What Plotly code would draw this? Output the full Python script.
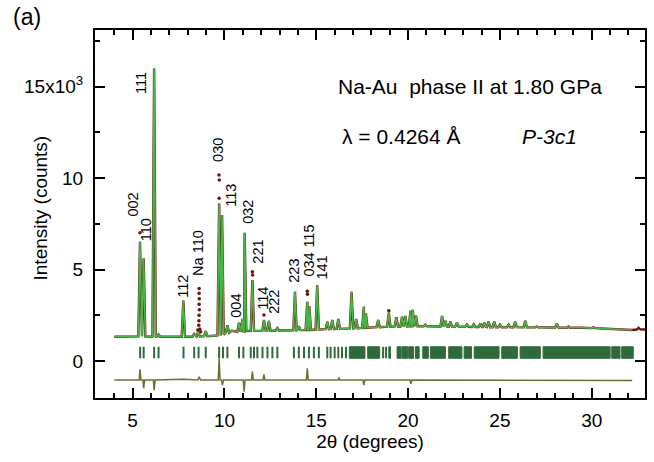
import plotly.graph_objects as go

# ---------------- data ----------------
# background / foot level of the pattern
bg_2theta = [4.0, 6.0, 8.0, 9.3, 10.4, 13.0, 16.0, 18.5, 21.0, 25.0, 29.0, 31.0, 32.2]
bg_counts = [1330, 1330, 1330, 1380, 1650, 1680, 1780, 1900, 1900, 1850, 1820, 1740, 1700]

# Bragg peaks of the calculated profile: position, calculated top, foot level
peak_2theta = [5.40, 5.60, 6.17, 6.41, 7.76, 8.35, 8.57, 8.98, 9.71, 9.87, 10.16, 10.79, 10.98,
               11.10, 11.52, 12.15, 12.42, 12.88, 13.84, 14.05, 14.51, 14.62, 15.05, 15.60,
               15.87, 16.20, 16.92, 17.17, 17.59, 17.70, 18.37, 18.95, 19.36, 19.67, 19.85,
               20.13, 20.25, 20.43, 20.94, 21.85, 22.03, 22.30, 22.66, 23.20, 23.57, 23.93,
               24.15, 24.38, 24.69, 25.00, 25.47, 25.83, 26.38, 27.00, 28.10, 28.73, 29.37,
               30.09, 31.00]
peak_calc = [6520, 5610, 15990, 1450, 3300, 1480, 1600, 1640, 8620, 7980, 1950, 2090, 2300,
             7010, 4430, 2240, 2190, 1800, 3790, 1900, 3240, 3000, 4150, 2150,
             2240, 2300, 3790, 2300, 2970, 2600, 2240, 2650, 2390, 2420, 2470,
             2750, 2800, 2480, 1990, 2470, 2200, 2150, 2100, 1990, 2010, 2050,
             2100, 2150, 2150, 1990, 1990, 2150, 2200, 1880, 2040, 1890, 1860,
             1840, 1760]
peak_base = [1350, 1350, 1340, 1330, 1330, 1330, 1340, 1360, 1400, 1450, 1550, 1600, 1620,
             1640, 1650, 1660, 1660, 1670, 1680, 1690, 1700, 1700, 1720, 1740,
             1750, 1760, 1780, 1790, 1810, 1820, 1850, 1880, 1890, 1890, 1890,
             1900, 1900, 1900, 1900, 1890, 1890, 1880, 1880, 1870, 1860, 1860,
             1860, 1850, 1850, 1850, 1850, 1850, 1840, 1840, 1830, 1820, 1820,
             1800, 1750]

# observed points visible above the calculated curve
obs_dot_2theta = [5.40, 9.70, 9.72, 9.71, 11.52, 11.53, 12.15, 14.51, 14.52, 18.95,
                  8.62, 8.62, 8.63, 8.62, 8.63, 8.62, 8.61, 8.60, 8.55, 8.66, 8.70]
obs_dot_counts = [7010, 10160, 9890, 8900, 4880, 4700, 2510, 3820, 3650, 2750,
                  3970, 3700, 3400, 3100, 2800, 2500, 2200, 1950, 1700, 1750, 1600]
obs_tail_2theta = [32.2, 32.45, 32.55, 32.65, 32.9]
obs_tail_counts = [1700, 1720, 1810, 1730, 1720]

# reflection markers (single lines and dense blocks)
refl_2theta = [5.41, 5.60, 6.17, 6.41, 7.77, 8.35, 8.59, 8.98, 9.71, 9.92, 10.16, 10.79, 11.03,
               11.43, 11.61, 11.79, 12.07, 12.34, 12.61, 12.88, 13.78, 14.05, 14.33, 14.60,
               14.87, 15.14, 15.60, 15.78, 16.00, 16.20, 16.40, 16.62, 18.64, 18.80]
refl_block_start = [16.80, 17.80, 18.95, 19.40, 19.67, 20.03, 20.40, 20.80, 21.21, 22.21, 23.05,
                    23.60, 25.10, 26.10, 27.35, 31.09, 31.63]
refl_block_end = [17.65, 18.45, 19.04, 19.62, 19.98, 20.30, 20.60, 21.10, 22.03, 22.93, 23.45,
                  24.95, 25.95, 27.20, 31.00, 31.54, 32.26]

# difference curve (obs - calc, offset)
diff_2theta = [4.0, 5.36, 5.40, 5.45, 5.56, 5.60, 5.65, 6.13, 6.17, 6.22, 7.76, 8.55, 8.62, 8.70,
               9.66, 9.71, 9.76, 9.84, 9.89, 9.95, 11.02, 11.07, 11.12, 11.47, 11.52, 11.57,
               12.10, 12.15, 12.20, 14.46, 14.51, 14.56, 16.18, 16.23, 16.28, 17.54, 17.59,
               17.64, 20.10, 20.15, 20.20, 32.2]
diff_counts = [-1040, -1040, -450, -1040, -1040, -1490, -1040, -1040, -1590, -1040, -1000,
               -1040, -860, -1040, -1040, 150, -1040, -1040, -1310, -1040, -1040, -1680, -1040,
               -1040, -580, -1040, -1040, -730, -1040, -1040, -400, -1040, -1040, -900, -1040,
               -1040, -1310, -1040, -1040, -1250, -1040, -1060]

hkl_text = ["111", "002", "110", "112", "Na 110", "030", "113", "032", "004", "221", "114",
            "222", "223", "034", "115", "141"]
hkl_2theta = [5.45, 5.02, 5.73, 7.73, 8.55, 9.64, 10.34, 11.27, 10.61, 11.81, 12.08, 12.68,
              13.77, 14.58, 14.58, 15.34]
hkl_counts = [15190, 8550, 7150, 4100, 5900, 11530, 9070, 8140, 3005, 5960, 3440, 3220,
              4920, 5250, 6830, 5080]

# ---------------- build profiles ----------------
HW = 0.09  # half base width of a drawn peak (degrees)
pts = [(x, y) for x, y in zip(bg_2theta, bg_counts)]
pts = [p for p in pts if all(abs(p[0] - pk) > HW * 1.5 for pk in peak_2theta)]
for p, top, b in zip(peak_2theta, peak_calc, peak_base):
    pts += [(p - HW, b), (p, top), (p + HW, b)]
pts.sort()
calc_x = [p[0] for p in pts]
calc_y = [p[1] for p in pts]

refl_x, refl_y = [], []
for p in refl_2theta:
    refl_x += [p, p, None]
    refl_y += [150, 780, None]
blk_x, blk_y = [], []
for s, e in zip(refl_block_start, refl_block_end):
    blk_x += [s, e, e, s, s, None]
    blk_y += [150, 150, 780, 780, 150, None]

RED = "#6e1212"
GREEN = "#45b845"
TICKG = "#2f6a3b"
OLIVE = "#6f6f33"
FONT = "Liberation Sans, Arial, sans-serif"

fig = go.Figure()
fig.add_trace(go.Scatter(x=calc_x + [None] + obs_tail_2theta, y=calc_y + [None] + obs_tail_counts,
                         mode="lines", line=dict(color=RED, width=2.4), hoverinfo="skip"))
fig.add_trace(go.Scatter(x=obs_dot_2theta, y=obs_dot_counts, mode="markers",
                         marker=dict(color=RED, size=3.5), hoverinfo="skip"))
fig.add_trace(go.Scatter(x=calc_x, y=calc_y, mode="lines",
                         line=dict(color=GREEN, width=1.6), hoverinfo="skip"))
fig.add_trace(go.Scatter(x=refl_x, y=refl_y, mode="lines",
                         line=dict(color=TICKG, width=2), hoverinfo="skip"))
fig.add_trace(go.Scatter(x=blk_x, y=blk_y, mode="lines", fill="toself", fillcolor=TICKG,
                         line=dict(color=TICKG, width=1), hoverinfo="skip"))
fig.add_trace(go.Scatter(x=diff_2theta, y=diff_counts, mode="lines",
                         line=dict(color=OLIVE, width=1.5), hoverinfo="skip"))

for t, x, y in zip(hkl_text, hkl_2theta, hkl_counts):
    fig.add_annotation(x=x, y=y, text=t, textangle=-90, showarrow=False,
                       font=dict(family=FONT, size=14.5, color="black"))

fig.add_annotation(xref="paper", yref="paper", x=0.682, y=0.846, xanchor="center", yanchor="middle",
                   text="Na-Au  phase II at 1.80 GPa",
                   showarrow=False, font=dict(family=FONT, size=21, color="black"))
fig.add_annotation(xref="paper", yref="paper", x=0.445, y=0.71, xanchor="left", yanchor="middle",
                   text="λ = 0.4264 Å", showarrow=False, font=dict(family=FONT, size=21, color="black"))
fig.add_annotation(xref="paper", yref="paper", x=0.773, y=0.71, xanchor="left", yanchor="middle",
                   text="<i>P-3c1</i>", showarrow=False, font=dict(family=FONT, size=21, color="black"))
fig.add_annotation(xref="paper", yref="paper", x=-0.152, y=1.035, xanchor="left", yanchor="middle",
                   text="(a)", showarrow=False, font=dict(family=FONT, size=23, color="black"))
fig.add_annotation(xref="paper", yref="paper", x=-0.10, y=0.515, xanchor="center", yanchor="middle",
                   text="Intensity (counts)", textangle=-90, showarrow=False,
                   font=dict(family=FONT, size=19, color="black"))

axis_common = dict(showline=True, linecolor="black", linewidth=2, mirror="ticks", ticks="inside",
                   tickcolor="black", tickwidth=1.5, ticklen=10, showgrid=False, zeroline=False,
                   automargin=False, tickfont=dict(family=FONT, size=19, color="black"))
fig.update_xaxes(range=[2.95, 32.9], tick0=0, dtick=5,
                 minor=dict(dtick=1, ticks="inside", ticklen=5, tickwidth=1.5, tickcolor="black"),
                 title=dict(text="2θ (degrees)", font=dict(family=FONT, size=19, color="black"), standoff=4),
                 ticklabelstandoff=4, **axis_common)
fig.update_yaxes(range=[-2020, 18090], tickvals=[0, 5000, 10000, 15000],
                 ticktext=["0", "5", "10", "15x10<sup>3</sup>"],
                 minor=dict(tickvals=[-2500, 2500, 7500, 12500, 17500], ticks="inside", ticklen=5,
                            tickwidth=1.5, tickcolor="black"),
                 ticklabelstandoff=6, **axis_common)
fig.update_layout(width=654, height=462, margin=dict(l=95, r=9, t=30, b=64),
                  plot_bgcolor="white", paper_bgcolor="white", showlegend=False)
fig.write_html("out.html")
